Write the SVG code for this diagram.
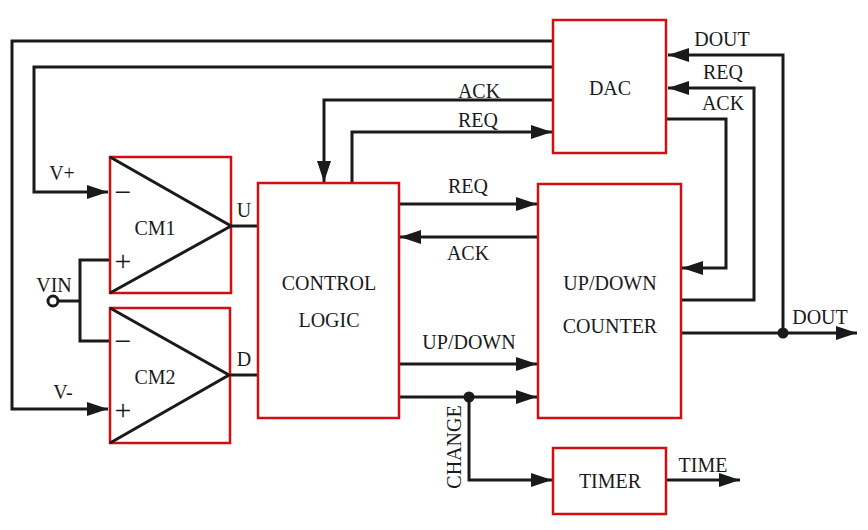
<svg xmlns="http://www.w3.org/2000/svg" width="868" height="530" viewBox="0 0 868 530">
<defs>
<marker id="arr" markerUnits="userSpaceOnUse" markerWidth="22" markerHeight="14" refX="21" refY="7" orient="auto">
<path d="M0,0 L21,7 L0,14 z" fill="#1a1a1a"/>
</marker>
<style>
.box{fill:#fff;stroke:#d01010;stroke-width:2.5}
.w{fill:none;stroke:#1a1a1a;stroke-width:3}
.a{marker-end:url(#arr)}
.tri{fill:none;stroke:#1a1a1a;stroke-width:3;stroke-linejoin:miter}
</style>
</defs>
<rect width="868" height="530" fill="#fff"/>
<g id="connectors">
<path class="w a" d="M553,41 H12 V409 H108"/>
<path class="w a" d="M553,67 H34 V192 H108"/>
<path class="w a" d="M553,100 H324 V182"/>
<path class="w a" d="M352,183 V132 H552"/>
<path class="w a" d="M783,333 V55 H668"/>
<path class="w a" d="M681,300 H754 V88 H668"/>
<path class="w a" d="M666,119 H726 V268 H682"/>
<path class="w a" d="M681,333 H857"/>
<path class="w a" d="M399,204 H537"/>
<path class="w a" d="M538,237 H400"/>
<path class="w a" d="M399,364 H537"/>
<path class="w a" d="M399,397 H537"/>
<path class="w a" d="M469,397 V480 H552"/>
<path class="w a" d="M666,480 H740"/>
<path class="w" d="M231,226 H258"/>
<path class="w" d="M229,375 H258"/>
<path class="w" d="M58,301 H80"/>
<path class="w" d="M110,260 H80 V341 H110"/>
<circle cx="783" cy="333" r="5.5" fill="#1a1a1a"/>
<circle cx="469" cy="397" r="5.5" fill="#1a1a1a"/>
<circle cx="53" cy="301" r="5" fill="#fff" stroke="#1a1a1a" stroke-width="3"/>
<g font-family="Liberation Serif, Times New Roman, serif" font-size="20" fill="#1a1a1a" text-anchor="middle">
<text x="479" y="98">ACK</text>
<text x="478" y="127">REQ</text>
<text x="722" y="46">DOUT</text>
<text x="723" y="79">REQ</text>
<text x="723" y="110">ACK</text>
<text x="468" y="193">REQ</text>
<text x="468" y="260">ACK</text>
<text x="469" y="349">UP/DOWN</text>
<text x="820" y="324">DOUT</text>
<text x="703" y="472">TIME</text>
<text transform="translate(461,447) rotate(-90)">CHANGE</text>
<text x="62" y="180">V+</text>
<text x="63" y="399">V-</text>
<text x="54" y="292">VIN</text>
<text x="244" y="217">U</text>
<text x="244" y="366">D</text>
</g>
</g>
<g id="cm1">
<rect class="box" x="110" y="157" width="121" height="136"/>
<path class="tri" d="M110,157 L231,226 L110,293"/>
<g font-family="Liberation Serif, Times New Roman, serif" font-size="20" fill="#1a1a1a" text-anchor="middle">
<text x="123" y="202" font-size="30">−</text>
<text x="123" y="271" font-size="30">+</text>
<text x="155" y="235">CM1</text>
</g>
</g>
<g id="cm2">
<rect class="box" x="110" y="308" width="120" height="135"/>
<path class="tri" d="M110,308 L229,375 L110,443"/>
<g font-family="Liberation Serif, Times New Roman, serif" font-size="20" fill="#1a1a1a" text-anchor="middle">
<text x="123" y="351" font-size="30">−</text>
<text x="123" y="420" font-size="30">+</text>
<text x="155" y="384">CM2</text>
</g>
</g>
<g id="control">
<rect class="box" x="258" y="183" width="141" height="235"/>
<g font-family="Liberation Serif, Times New Roman, serif" font-size="20" fill="#1a1a1a" text-anchor="middle">
<text x="329" y="290">CONTROL</text>
<text x="329" y="327">LOGIC</text>
</g>
</g>
<g id="dac">
<rect class="box" x="553" y="20" width="113" height="133"/>
<text x="610" y="95" font-family="Liberation Serif, Times New Roman, serif" font-size="20" fill="#1a1a1a" text-anchor="middle">DAC</text>
</g>
<g id="counter">
<rect class="box" x="538" y="184" width="143" height="234"/>
<g font-family="Liberation Serif, Times New Roman, serif" font-size="20" fill="#1a1a1a" text-anchor="middle">
<text x="610" y="290">UP/DOWN</text>
<text x="610" y="333">COUNTER</text>
</g>
</g>
<g id="timer">
<rect class="box" x="553" y="448" width="113" height="66"/>
<text x="610" y="488" font-family="Liberation Serif, Times New Roman, serif" font-size="20" fill="#1a1a1a" text-anchor="middle">TIMER</text>
</g>
</svg>
